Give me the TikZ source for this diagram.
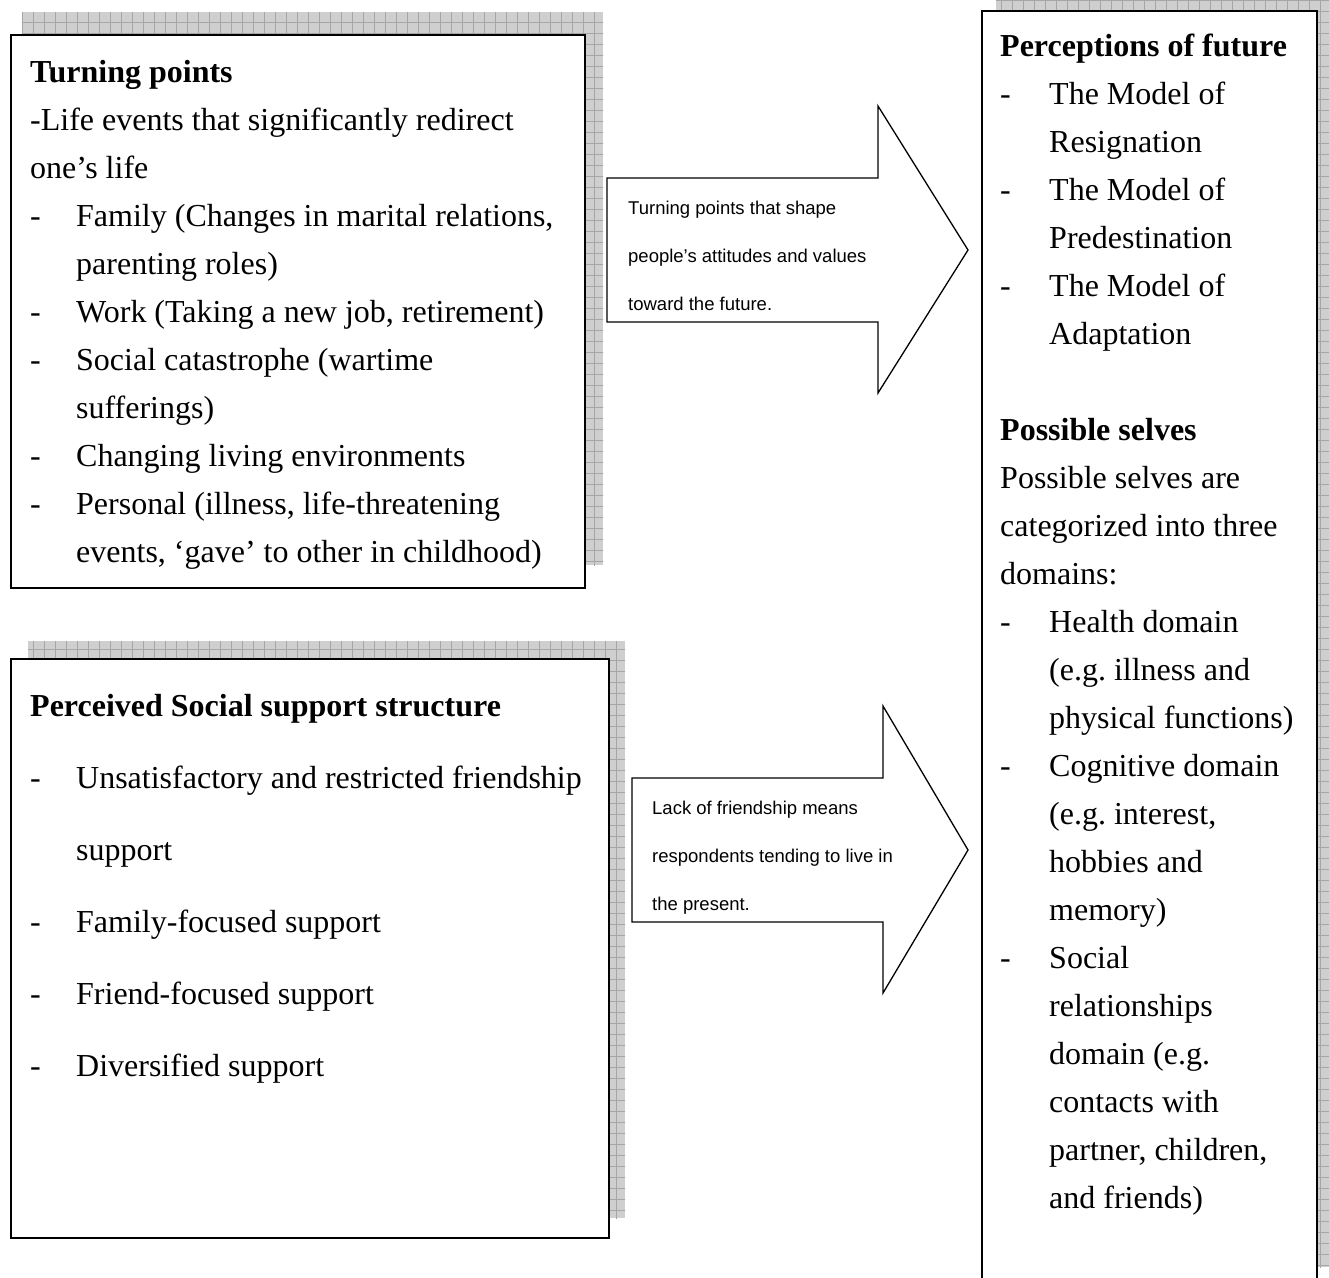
\documentclass[tikz,border=0pt]{standalone}
\usepackage{fontspec}
\setmainfont{Liberation Serif}
\newfontfamily\arialfont{Liberation Sans}
\newcommand\mydash{\makebox[46pt][l]{-}}
\newcommand\myind{\hspace*{46pt}}
\newcommand\rdash{\makebox[49pt][l]{-}}
\newcommand\rind{\hspace*{49pt}}
\frenchspacing
\begin{document}
\begin{tikzpicture}[x=1pt,y=-1pt,
  box/.style={draw=black,line width=1.5pt,fill=white,rectangle,inner sep=0pt,anchor=north west},
  shadefill/.style={fill=gray!38},
  gridline/.style={draw=gray!70,line width=0.5pt},
  bodytext/.style={anchor=base west,inner sep=0pt,align=left,font=\fontsize{32}{48}\selectfont},
  widetext/.style={anchor=base west,inner sep=0pt,align=left,font=\fontsize{32}{72}\selectfont},
  arrowtext/.style={anchor=base west,inner sep=0pt,align=left,font=\arialfont\fontsize{18.5}{48}\selectfont},
  blockarrow/.style={draw=black,line width=1.3pt,fill=white,line join=miter}]
\clip (0,0) rectangle (1329,1277);
\fill[white] (0,0) rectangle (1329,1277);
% shadows
\begin{scope}
  \clip (22,12) rectangle (603,565);
  \fill[shadefill] (22,12) rectangle (603,565);
  \draw[gridline,step=11pt] (0,0) grid (620,580);
\end{scope}
\begin{scope}
  \clip (28,641) rectangle (625,1218);
  \fill[shadefill] (28,641) rectangle (625,1218);
  \draw[gridline,step=11pt] (0,630) grid (640,1230);
\end{scope}
\begin{scope}
  \clip (996,-5) rectangle (1340,1267);
  \fill[shadefill] (996,-5) rectangle (1340,1267);
  \draw[gridline,step=11pt] (990,-10) grid (1340,1280);
\end{scope}
% boxes
\node[box,minimum width=574pt,minimum height=553pt] (tp) at (10,34) {};
\node[box,minimum width=598pt,minimum height=579pt] (ss) at (10,658) {};
\node[box,minimum width=335pt,minimum height=1320pt] (pf) at (981,10) {};
% block arrows
\draw[blockarrow] (607,178) coordinate (a1) -- (878,178) -- (878,106) -- (968,250) coordinate (a1tip) -- (878,393) -- (878,322) -- (607,322) -- cycle;
\draw[blockarrow] (632,778) coordinate (a2) -- (883,778) -- (883,706) -- (968,850) coordinate (a2tip) -- (883,993) -- (883,922) -- (632,922) -- cycle;
% texts (base anchor = baseline of last line)
\node[bodytext] (tpt) at (30,562) {\textbf{Turning points}\\
-Life events that significantly redirect\\
one’s life\\
\mydash Family (Changes in marital relations,\\
\myind parenting roles)\\
\mydash Work (Taking a new job, retirement)\\
\mydash Social catastrophe (wartime\\
\myind sufferings)\\
\mydash Changing living environments\\
\mydash Personal (illness, life-threatening\\
\myind events, ‘gave’ to other in childhood)};
\node[widetext] (sst) at (30,1076) {\textbf{Perceived Social support structure}\\
\mydash Unsatisfactory and restricted friendship\\
\myind support\\
\mydash Family-focused support\\
\mydash Friend-focused support\\
\mydash Diversified support};
\node[bodytext] (pft) at (1000,1208) {\textbf{Perceptions of future}\\
\rdash The Model of\\
\rind Resignation\\
\rdash The Model of\\
\rind Predestination\\
\rdash The Model of\\
\rind Adaptation\\
\mbox{}\\
\textbf{Possible selves}\\
Possible selves are\\
categorized into three\\
domains:\\
\rdash Health domain\\
\rind (e.g.\ illness and\\
\rind physical functions)\\
\rdash Cognitive domain\\
\rind (e.g.\ interest,\\
\rind hobbies and\\
\rind memory)\\
\rdash Social\\
\rind relationships\\
\rind domain (e.g.\\
\rind contacts with\\
\rind partner, children,\\
\rind and friends)};
\node[arrowtext] (a1t) at (628,310) {Turning points that shape\\
people’s attitudes and values\\
toward the future.};
\node[arrowtext] (a2t) at (652,910) {Lack of friendship means\\
respondents tending to live in\\
the present.};
\end{tikzpicture}
\end{document}
